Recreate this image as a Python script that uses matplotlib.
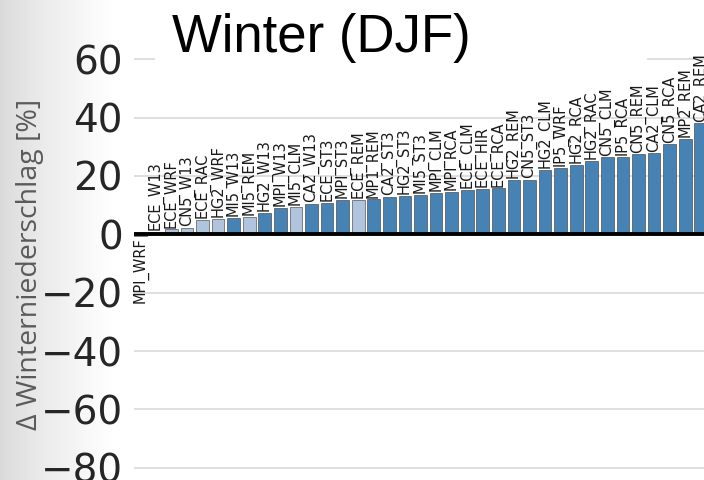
import numpy as np
import matplotlib.pyplot as plt
from matplotlib.patches import Rectangle

modelle = ['MPI_WRF', 'ECE_W13', 'ECE_WRF', 'CN5_W13', 'ECE_RAC', 'HG2_WRF',
           'MI5_W13', 'MI5_REM', 'HG2_W13', 'MPI_W13', 'MI5_CLM', 'CA2_W13',
           'ECE_ST3', 'MPI_ST3', 'ECE_REM', 'MP1_REM', 'CA2_ST3', 'HG2_ST3',
           'MI5_ST3', 'MPI_CLM', 'MPI_RCA', 'ECE_CLM', 'ECE_HIR', 'ECE_RCA',
           'HG2_REM', 'CN5_ST3', 'HG2_CLM', 'IP5_WRF', 'HG2_RCA', 'HG2_RAC',
           'CN5_CLM', 'IP5_RCA', 'CN5_REM', 'CA2_CLM', 'CN5_RCA', 'MP2_REM',
           'CA2_REM']
werte = [-0.5, 0.8, 1.7, 2.2, 4.9, 5.4,
         5.7, 5.9, 7.3, 9.0, 9.4, 10.4,
         10.8, 11.7, 11.8, 12.0, 12.9, 13.1,
         13.4, 14.3, 14.5, 15.3, 15.6, 15.7,
         18.7, 18.7, 22.0, 22.8, 23.7, 25.2,
         26.4, 26.6, 27.4, 27.7, 30.8, 32.7,
         38.0]
# True = signifikant (dunkel), False = hell
signifikant = [False, False, False, False, False, False,
               True, False, True, True, False, True,
               True, True, False, True, True, True,
               True, True, True, True, True, True,
               True, True, True, True, True, True,
               True, True, True, True, True, True,
               True]
yticks = [-80, -60, -40, -20, 0, 20, 40, 60]

W, H = 704, 480
fig = plt.figure(figsize=(W / 100, H / 100), dpi=100)

# grauer Verlauf links im Hintergrund
bg = fig.add_axes([0, 0, 1, 1], zorder=-10)
xs = np.linspace(0, W, W)
verlauf = 0.85 + 0.15 * np.clip(xs / 115, 0, 1) ** 0.8
bg.imshow(np.tile(verlauf, (10, 1)), cmap='gray', vmin=0, vmax=1,
          aspect='auto', extent=[0, 1, 0, 1])
bg.axis('off')

ax = fig.add_axes([134 / W, 0, 573 / W, 1])
ax.set_facecolor('white')

farben = ['#4682b4' if s else '#b0c4de' for s in signifikant]
x = np.arange(len(modelle))
ax.bar(x, werte, width=0.82, color=farben, edgecolor='#333333',
       linewidth=0.4, zorder=2)
ax.axhline(0, color='black', lw=2.8, zorder=3)

for i, (m, v) in enumerate(zip(modelle, werte)):
    if v >= 0:
        ax.text(i, v + 0.6, m, rotation=90, ha='center', va='bottom',
                fontsize=10.5, color='#1a1a1a', zorder=4)
    else:
        ax.text(i, v - 0.6, m, rotation=90, ha='center', va='top',
                fontsize=10.5, color='#1a1a1a', zorder=4)

ax.set_xlim(-0.4, len(modelle) - 0.6)
ax.set_ylim(-84.2, 80.3)
ax.set_yticks(yticks)
ax.set_yticklabels([str(t).replace('-', '\u2212') for t in yticks])
ax.set_xticks([])
ax.tick_params(axis='y', length=0, pad=8, labelsize=28, labelcolor='#262626')
ax.yaxis.grid(True, color='#dcdcdc', lw=1.3, zorder=0)
ax.set_axisbelow(True)
for s in ax.spines.values():
    s.set_visible(False)

# weisse Titelbox
fig.add_artist(Rectangle((155 / W, 1 - 63 / H), (647 - 155) / W, 63 / H,
                         transform=fig.transFigure, facecolor='white',
                         edgecolor='none', zorder=5))
fig.text(321 / W, 1 - 52 / H, 'Winter (DJF)', family='Liberation Sans',
         fontsize=38, ha='center', va='baseline', zorder=6)

fig.text(30 / W, 1 - 264 / H, '\u0394 Winterniederschlag [%]', rotation=90,
         family='Open Sans', fontsize=20.5, color='#5a5a5a',
         ha='center', va='center', zorder=6)

fig.savefig('out.png', dpi=100)
